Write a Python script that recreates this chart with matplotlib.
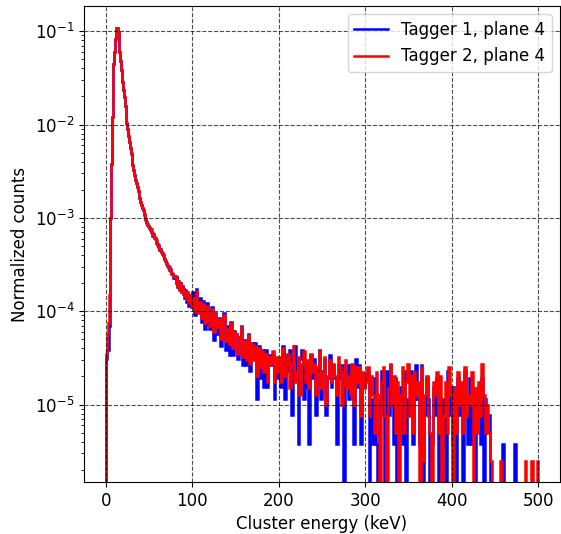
import numpy as np
import matplotlib
matplotlib.use("Agg")
import matplotlib.pyplot as plt

# ---- data: histogram counts; 1 keV bins for 0-100 keV, 2 keV bins for 100-500 keV ----
bin_edges_low = list(range(0, 100))          # left edges, 1 keV wide
bin_edges_high = list(range(100, 501, 2))    # edges 100..500, 2 keV wide
total_tagger1 = 262000
total_tagger2 = 400000

tagger2_0_50 = [14, 18, 22, 30, 60, 400, 1520, 4810, 11000, 17870, 24100, 33270, 42860, 43370,
                38200, 30340, 24100, 19140, 15210, 11530, 9380, 7800, 6340, 5040, 4190, 3570,
                3030, 2580, 2250, 1960, 1710, 1490, 1290, 1150, 1030, 940, 855, 780, 711, 649,
                592, 552, 515, 481, 438, 409, 382, 356, 340, 325, 310]
tagger2_51_99 = [296, 301, 276, 272, 255, 251, 236, 230, 207,
                 200, 196, 185, 183, 171, 168, 155, 152, 144, 137,
                 127, 125, 116, 118, 108, 110, 101, 99, 95, 94,
                 95, 80, 92, 74, 83, 68, 80, 65, 72, 62,
                 70, 58, 66, 54, 64, 50, 60, 48, 58, 46]
tagger2_100_198 = [55, 40, 66, 38, 50, 34, 48, 30, 45, 33,
                   28, 42, 24, 37, 27, 33, 20, 31, 36, 19,
                   26, 18, 30, 16, 24, 23, 14, 21, 27, 13,
                   19, 12, 22, 11, 18, 12, 17, 8, 16, 10,
                   15, 9, 14, 7, 13, 11, 15, 7, 13, 9]
tagger2_200_298 = [13, 7, 16, 8, 11, 14, 6, 11, 17, 7,
                   9, 13, 5, 11, 15, 7, 12, 6, 14, 9,
                   11, 5, 10, 15, 6, 9, 13, 4, 8, 12,
                   7, 11, 8, 5, 13, 10, 4, 9, 12, 6,
                   8, 5, 11, 4, 10, 7, 10, 3, 9, 6]
tagger2_300_398 = [7, 10, 3, 8, 5, 2, 9, 5, 0, 7,
                   10, 3, 0, 6, 11, 4, 8, 2, 7, 0,
                   5, 10, 2, 7, 11, 3, 8, 2, 9, 5,
                   7, 0, 10, 1, 5, 8, 3, 2, 0, 7,
                   5, 9, 2, 8, 0, 3, 7, 2, 10, 5]
tagger2_400_498 = [0, 6, 2, 9, 4, 7, 2, 10, 3, 5,
                   4, 9, 0, 6, 2, 7, 3, 11, 5, 2,
                   4, 2, 1, 0, 0, 0, 0, 0, 1, 0,
                   0, 0, 0, 0, 0, 0, 0, 0, 0, 0,
                   0, 0, 1, 0, 0, 0, 1, 0, 0, 1]

tagger1_0_50 = [8, 8, 10, 10, 18, 262, 996, 3150, 7210, 11700, 15800, 21790, 28070, 28400,
                25020, 19870, 15790, 12540, 9960, 7550, 6140, 5110, 4150, 3300, 2740, 2340,
                1990, 1690, 1470, 1280, 1120, 975, 850, 755, 673, 614, 560, 510, 466, 425,
                388, 362, 338, 315, 280, 268, 256, 234, 218, 213, 203]
tagger1_51_99 = [199, 186, 187, 168, 175, 158, 161, 141, 137,
                 128, 133, 119, 121, 112, 108, 104, 99, 96, 90,
                 86, 79, 80, 73, 75, 69, 67, 66, 60, 62,
                 60, 52, 62, 48, 55, 45, 53, 42, 49, 40,
                 46, 36, 44, 33, 41, 30, 39, 31, 37, 29]
tagger1_100_198 = [42, 24, 45, 27, 36, 20, 34, 17, 32, 19,
                   17, 29, 13, 25, 15, 22, 11, 21, 25, 10,
                   18, 9, 20, 9, 16, 15, 8, 14, 18, 7,
                   13, 7, 15, 6, 12, 8, 12, 3, 11, 5,
                   10, 4, 10, 4, 9, 7, 9, 3, 8, 5]
tagger1_200_298 = [8, 4, 11, 3, 9, 6, 10, 2, 8, 11,
                   5, 1, 8, 10, 3, 7, 4, 1, 9, 5,
                   8, 2, 6, 10, 3, 6, 8, 2, 5, 9,
                   4, 7, 5, 1, 7, 5, 7, 0, 4, 7,
                   3, 7, 5, 1, 8, 4, 7, 1, 5, 4]
tagger1_300_398 = [5, 6, 0, 3, 1, 5, 1, 0, 3, 6,
                   2, 0, 6, 2, 7, 3, 1, 5, 0, 3,
                   4, 1, 6, 0, 3, 2, 6, 1, 3, 7,
                   3, 1, 7, 0, 2, 5, 3, 0, 1, 4,
                   2, 5, 0, 3, 1, 3, 0, 6, 2, 4]
tagger1_400_498 = [1, 4, 0, 5, 2, 3, 0, 6, 2, 1,
                   5, 1, 3, 0, 2, 4, 1, 5, 0, 3,
                   2, 2, 0, 0, 0, 0, 0, 0, 0, 1,
                   0, 0, 0, 0, 0, 0, 1, 0, 0, 0,
                   0, 0, 0, 0, 0, 0, 0, 0, 0, 0]

series_labels = ["Tagger 1, plane 4", "Tagger 2, plane 4"]
series_colors = ["blue", "red"]
x_ticks = [0, 100, 200, 300, 400, 500]

edges = np.array(bin_edges_low + bin_edges_high, dtype=float)
tagger1 = np.array(tagger1_0_50 + tagger1_51_99 + tagger1_100_198 + tagger1_200_298
                   + tagger1_300_398 + tagger1_400_498, dtype=float) / total_tagger1
tagger2 = np.array(tagger2_0_50 + tagger2_51_99 + tagger2_100_198 + tagger2_200_298
                   + tagger2_300_398 + tagger2_400_498, dtype=float) / total_tagger2
assert len(tagger1) == len(edges) - 1 and len(tagger2) == len(edges) - 1

plt.rcParams["font.size"] = 12
fig = plt.figure(figsize=(5.61, 5.34), dpi=100)
ax = fig.add_axes([84 / 561, 1 - 482 / 534, (560 - 84) / 561, (482 - 6) / 534])
ax.set_yscale("log")
for vals, lab, col in zip([tagger1, tagger2], series_labels, series_colors):
    ax.stairs(vals, edges, baseline=0, color=col, lw=1.8, label=lab)

ax.set_xlim(-25, 525)
ax.set_ylim(10 ** -5.83, 10 ** -0.73)
ax.set_xticks(x_ticks)
ax.grid(True, which="major", color="k", ls="--", lw=0.8, alpha=0.7)
ax.set_xlabel("Cluster energy (keV)")
ax.set_ylabel("Normalized counts")
ax.legend(loc="upper right")
fig.savefig("out.png", dpi=100)
